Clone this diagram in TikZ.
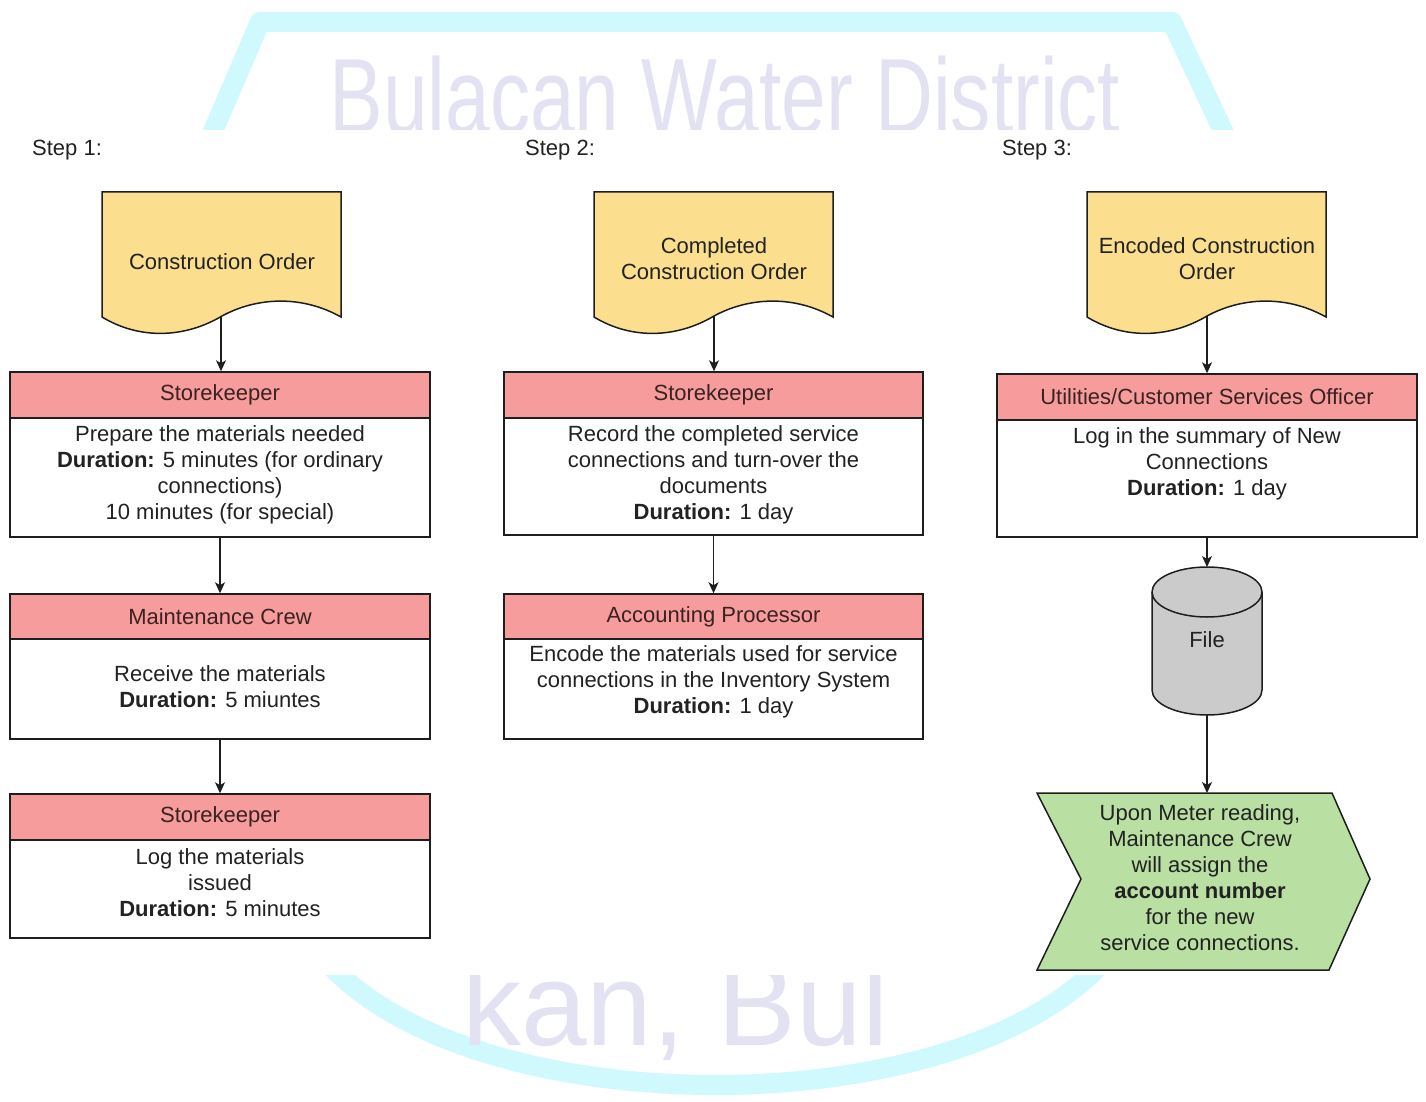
\documentclass[tikz,border=0pt]{standalone}
\usepackage{fontspec}
\setmainfont{Liberation Sans}
\usetikzlibrary{arrows.meta,calc}

\definecolor{docfill}{HTML}{FBDF8E}
\definecolor{hdrfill}{HTML}{F79C9C}
\definecolor{stepfill}{HTML}{B9DFA3}
\definecolor{dbfill}{HTML}{CBCBCB}
\definecolor{linec}{HTML}{1E1E1E}
\definecolor{txtc}{HTML}{222222}
\definecolor{hdrtxt}{HTML}{3A2222}
\definecolor{wmband}{HTML}{CFF9FC}
\definecolor{wmtext}{HTML}{E2E2F3}

\newcommand\diafont{\fontsize{22}{26}\selectfont}

\begin{document}
\begin{tikzpicture}[x=1pt,y=-1pt,
  every node/.style={font=\diafont, text=txtc},
  hdr/.style={draw=linec, line width=1.5pt, fill=hdrfill, text=hdrtxt,
    minimum width=420pt, minimum height=46pt, inner sep=0pt},
  body/.style={draw=linec, line width=1.5pt, fill=white,
    minimum width=420pt, inner sep=0pt},
  txt/.style={align=center, inner sep=0pt},
  doc/.style={draw=linec, line width=1.5pt, fill=docfill},
  flow/.style={draw=linec, line width=1.2pt,
    -{Stealth[length=11pt,width=10pt,inset=3pt]}},
  steplabel/.style={anchor=west, inner sep=0pt},
  wmark/.style={text=wmtext, inner sep=0pt}
]
\useasboundingbox (0,0) rectangle (1426,1102);
\fill[white] (0,0) rectangle (1426,1102);

% ---- watermark, top part ----
\begin{scope}
  \clip (0,0) rectangle (1426,130);
  \draw[wmband, line width=20pt, line join=round]
    (205,150) -- (260,22) -- (1172,22) -- (1232,150);
  \node[wmark, anchor=base, xscale=0.75, font=\fontsize{107}{107}\selectfont]
    (wmtop) at (725,134) {Bulacan Water District};
\end{scope}

% ---- watermark, bottom part ----
\begin{scope}
  \clip (0,975) rectangle (1426,1102);
  \draw[wmband, line width=20pt, line cap=round]
    (330,965) .. controls (480,1125) and (950,1125) .. (1100,965);
  \node[wmark, anchor=base west, font=\fontsize{118}{118}\selectfont]
    (wmbot) at (462,1045) {kan, Bul};
\end{scope}

% ---- step captions ----
\node[steplabel] (s1) at (32,150) {Step 1:};
\node[steplabel] (s2) at (525,150) {Step 2:};
\node[steplabel] (s3) at (1002,150) {Step 3:};

% ---- documents ----
\draw[doc] (102,192) -- (341,192) -- (341,317)
  .. controls (300,294) and (255,298) .. (222,316)
  .. controls (185,338) and (140,340) .. (102,317) -- cycle;
\coordinate (d1b) at (221,317);
\node[txt] (d1) at (222,262) {Construction Order};

\draw[doc] (594,192) -- (833,192) -- (833,317)
  .. controls (792,294) and (747,298) .. (714,316)
  .. controls (677,338) and (632,340) .. (594,317) -- cycle;
\coordinate (d2b) at (714,316);
\node[txt] (d2) at (714,259) {Completed\\Construction Order};

\draw[doc] (1087,192) -- (1326,192) -- (1326,317)
  .. controls (1285,294) and (1240,298) .. (1207,316)
  .. controls (1170,338) and (1125,340) .. (1087,317) -- cycle;
\coordinate (d3b) at (1207,316);
\node[txt] (d3) at (1207,259) {Encoded Construction\\Order};

% ---- column 1 ----
\node[body, minimum height=119pt] (b11) at (220,477.5) {};
\node[hdr] (h11) at (220,395) {Storekeeper};
\node[txt] (t11) at (220,475) {Prepare the materials needed\\
  \textbf{Duration:} 5 minutes (for ordinary\\ connections)\\ 10 minutes (for special)};

\node[body, minimum height=100pt] (b12) at (220,689) {};
\node[hdr, minimum height=45pt] (h12) at (220,616.5) {Maintenance Crew};
\node[txt] (t12) at (220,687) {Receive the materials\\ \textbf{Duration:} 5 miuntes};

\node[body, minimum height=98pt] (b13) at (220,889) {};
\node[hdr] (h13) at (220,817) {Storekeeper};
\node[txt] (t13) at (220,883) {Log the materials\\ issued\\ \textbf{Duration:} 5 minutes};

% ---- column 2 ----
\node[body, minimum width=419pt, minimum height=117pt] (b21) at (713.5,476.5) {};
\node[hdr, minimum width=419pt] (h21) at (713.5,395) {Storekeeper};
\node[txt] (t21) at (713.5,475) {Record the completed service\\
  connections and turn-over the\\ documents\\ \textbf{Duration:} 1 day};

\node[body, minimum width=419pt, minimum height=100pt] (b22) at (713.5,689) {};
\node[hdr, minimum width=419pt, minimum height=45pt] (h22) at (713.5,616.5) {Accounting Processor};
\node[txt] (t22) at (713.5,682) {Encode the materials used for service\\
  connections in the Inventory System\\ \textbf{Duration:} 1 day};

% ---- column 3 ----
\node[body, minimum height=117pt] (b31) at (1207,478.5) {};
\node[hdr] (h31) at (1207,397) {Utilities/Customer Services Officer};
\node[txt] (t31) at (1207,464) {Log in the summary of New\\ Connections\\ \textbf{Duration:} 1 day};

% file store
\draw[draw=linec, line width=1.5pt, fill=dbfill]
  (1152,592) -- (1152,690) arc[start angle=180, end angle=0, x radius=55, y radius=25]
  -- (1262,592) arc[start angle=0, end angle=-180, x radius=55, y radius=25] -- cycle;
\draw[draw=linec, line width=1.5pt]
  (1152,592) arc[start angle=180, end angle=0, x radius=55, y radius=25];
\coordinate (dbtop) at (1207,567);
\coordinate (dbbot) at (1207,715);
\node[txt] (db) at (1207,640) {File};

% final step
\draw[draw=linec, line width=1.5pt, fill=stepfill]
  (1037,793) -- (1332,793) -- (1370,879) -- (1329,970) -- (1037,970) -- (1081,879) -- cycle;
\coordinate (gtop) at (1207,793);
\node[txt] (g) at (1200,878) {Upon Meter reading,\\ Maintenance Crew\\ will assign the\\
  \textbf{account number}\\ for the new\\ service connections.};

% ---- connectors ----
\draw[flow] (d1b) -- (d1b |- h11.north);
\draw[flow] (b11.south) -- (h12.north);
\draw[flow] (b12.south) -- (h13.north);
\draw[flow] (d2b) -- (d2b |- h21.north);
\draw[flow] (b21.south) -- (h22.north);
\draw[flow] (d3b) -- (d3b |- h31.north);
\draw[flow] (b31.south) -- (dbtop);
\draw[flow] (dbbot) -- (gtop);
\end{tikzpicture}
\end{document}
